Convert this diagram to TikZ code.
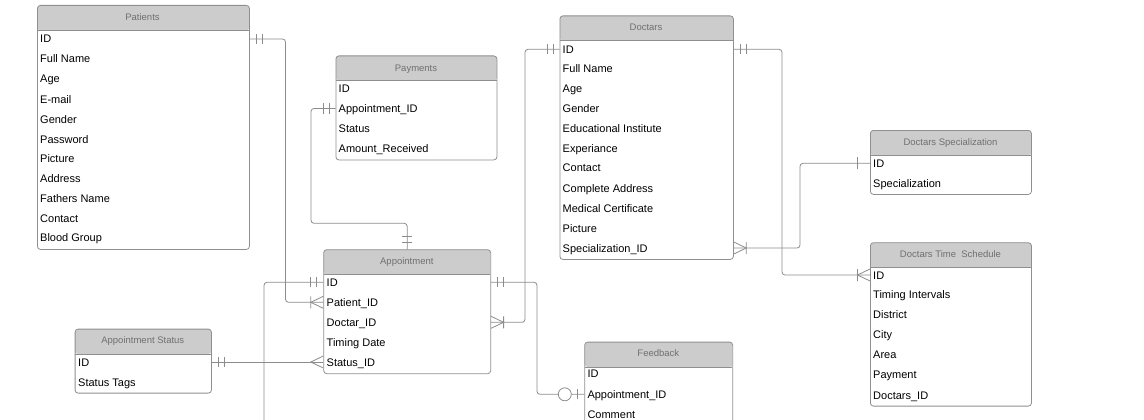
\documentclass[tikz,border=0pt]{standalone}
\usepackage{fontspec}
\setmainfont{Liberation Sans}
\usepackage{tikz}
\usetikzlibrary{calc}

\definecolor{HeadGray}{HTML}{CCCCCC}
\definecolor{EdgeGray}{HTML}{8F8F8F}
\definecolor{TitleGray}{HTML}{707070}
\definecolor{LinkGray}{HTML}{8C8C8C}

\begin{document}
\begin{tikzpicture}[x=1pt,y=-1pt]
			\tikzstyle{Table}	= [draw=EdgeGray, line width=0.8pt, rounded corners=3pt, anchor=north west, inner sep=0pt,
								   path picture={\fill[HeadGray] (path picture bounding box.north west) rectangle ([yshift=-25pt]path picture bounding box.north east);
								                 \draw[EdgeGray, line width=0.8pt] ([yshift=-25pt]path picture bounding box.north west) -- ([yshift=-25pt]path picture bounding box.north east);}]
			\tikzstyle{Title}	= [inner sep=0pt, text=TitleGray, font=\fontsize{9.5}{11}\selectfont, text height=7pt, text depth=0pt]
			\tikzstyle{Row}		= [anchor=west, inner sep=0pt, font=\fontsize{11}{13}\selectfont, text height=8pt, text depth=0pt]
			\tikzstyle{Link}	= [draw=LinkGray, line width=0.8pt]
			\tikzstyle{Conn}	= [Link, rounded corners=3pt]
			\tikzset{
				Dbl/.pic	 = {\draw [Link] (6.5,-5) -- (6.5,5) (12.5,-5) -- (12.5,5);},
				One/.pic	 = {\draw [Link] (13,-6) -- (13,6);},
				Crow/.pic	 = {\draw [Link] (0,-6) -- (12.5,0) -- (0,6);},
				CrowBar/.pic = {\draw [Link] (0,-6) -- (12.5,0) -- (0,6) (12.5,-6) -- (12.5,6);},
				ZeroOne/.pic = {\draw [Link] (7,-5) -- (7,5); \draw [Link, fill=white] (19.5,0) circle (6.5);}
			}

			\useasboundingbox (0,0) rectangle (1144,420);
			\clip (0,0) rectangle (1144,420);

			% Patients
			\node (pat) at (37,5) [Table, minimum width=212, minimum height=244] {};
			\node (pat-t) at (142.5,17.5) [Title] {Patients};
			\node (pat-id) at (40,39) [Row] {ID};
			\node (pat-nm) at (40,59) [Row] {Full Name};
			\node (pat-ag) at (40,79) [Row] {Age};
			\node (pat-em) at (40,99) [Row] {E-mail};
			\node (pat-gn) at (40,119) [Row] {Gender};
			\node (pat-pw) at (40,139) [Row] {Password};
			\node (pat-pc) at (40,158.5) [Row] {Picture};
			\node (pat-ad) at (40,178.3) [Row] {Address};
			\node (pat-fn) at (40,198.2) [Row] {Fathers Name};
			\node (pat-ct) at (40,218) [Row] {Contact};
			\node (pat-bg) at (40,237.8) [Row] {Blood Group};

			% Payments
			\node (pay) at (335.5,55.5) [Table, minimum width=161, minimum height=104] {};
			\node (pay-t) at (416,67.5) [Title] {Payments};
			\node (pay-id) at (338.5,88.5) [Row] {ID};
			\node (pay-aid) at (338.5,108.5) [Row] {Appointment\_ID};
			\node (pay-st) at (338.5,128.3) [Row] {Status};
			\node (pay-am) at (338.5,148.3) [Row] {Amount\_Received};

			% Doctars
			\node (doc) at (559.5,15.5) [Table, minimum width=173.5, minimum height=243.5] {};
			\node (doc-t) at (646,27.5) [Title] {Doctars};
			\node (doc-id) at (562.5,49.3) [Row] {ID};
			\node (doc-nm) at (562.5,69) [Row] {Full Name};
			\node (doc-ag) at (562.5,88.8) [Row] {Age};
			\node (doc-gn) at (562.5,108.5) [Row] {Gender};
			\node (doc-ei) at (562.5,128.3) [Row] {Educational Institute};
			\node (doc-ex) at (562.5,148) [Row] {Experiance};
			\node (doc-ct) at (562.5,167.8) [Row] {Contact};
			\node (doc-ad) at (562.5,188) [Row] {Complete Address};
			\node (doc-mc) at (562.5,208) [Row] {Medical Certificate};
			\node (doc-pc) at (562.5,228) [Row] {Picture};
			\node (doc-sid) at (562.5,248) [Row] {Specialization\_ID};

			% Doctars Specialization
			\node (dsp) at (870,130) [Table, minimum width=161, minimum height=64] {};
			\node (dsp-t) at (950.5,141.5) [Title] {Doctars Specialization};
			\node (dsp-id) at (873,163.3) [Row] {ID};
			\node (dsp-sp) at (873,183.3) [Row] {Specialization};

			% Doctars Time Schedule
			\node (dts) at (870,242.3) [Table, minimum width=161, minimum height=163.4] {};
			\node (dts-t) at (950.5,253.5) [Title] {Doctars Time~ Schedule};
			\node (dts-id) at (873,275) [Row] {ID};
			\node (dts-ti) at (873,294.8) [Row] {Timing Intervals};
			\node (dts-ds) at (873,314.6) [Row] {District};
			\node (dts-cy) at (873,334.4) [Row] {City};
			\node (dts-ar) at (873,354.3) [Row] {Area};
			\node (dts-py) at (873,374.3) [Row] {Payment};
			\node (dts-did) at (873,395) [Row] {Doctars\_ID};

			% Appointment
			\node (app) at (323.3,249.3) [Table, minimum width=167, minimum height=124] {};
			\node (app-t) at (406.8,260.8) [Title] {Appointment};
			\node (app-id) at (326.5,282.3) [Row] {ID};
			\node (app-pid) at (326.5,302.3) [Row] {Patient\_ID};
			\node (app-did) at (326.5,322.3) [Row] {Doctar\_ID};
			\node (app-td) at (326.5,342) [Row] {Timing Date};
			\node (app-sid) at (326.5,362) [Row] {Status\_ID};

			% Appointment Status
			\node (ast) at (74.7,328.7) [Table, minimum width=136.3, minimum height=64] {};
			\node (ast-t) at (142.8,340) [Title] {Appointment Status};
			\node (ast-id) at (78,362) [Row] {ID};
			\node (ast-tg) at (78,382) [Row] {Status Tags};

			% Feedback
			\node (fbk) at (584.3,341.7) [Table, minimum width=148, minimum height=100] {};
			\node (fbk-t) at (658.3,352.5) [Title] {Feedback};
			\node (fbk-id) at (587.3,373.7) [Row] {ID};
			\node (fbk-aid) at (587.3,394.3) [Row] {Appointment\_ID};
			\node (fbk-cm) at (587.3,414) [Row] {Comment};

			% bends
			\coordinate (k1) at (285.5,0);
			\coordinate (k2) at (311,223.3);
			\coordinate (k4) at (525,0);
			\coordinate (k5) at (537,0);
			\coordinate (k6) at (264,440);
			\coordinate (k7) at (782,0);
			\coordinate (k8) at (800,0);

			\draw [Conn] (pat.east |- pat-id) -| (k1 |- app-pid) -- (app.west |- app-pid);
			\draw [Conn] (pay.west |- pay-aid) -| (k2) -| (app.north);
			\draw [Conn] (doc.west |- doc-id) -| (k4 |- app-did) -- (app.east |- app-did);
			\draw [Conn] (app.east |- app-id) -| (k5 |- fbk-aid) -- (fbk.west |- fbk-aid);
			\draw [Conn] (app.west |- app-id) -| (k6);
			\draw [Conn] (ast.east |- ast-id) -- (app.west |- app-sid);
			\draw [Conn] (doc.east |- doc-id) -| (k7 |- dts-id) -- (dts.west |- dts-id);
			\draw [Conn] (doc.east |- doc-sid) -| (k8 |- dsp-id) -- (dsp.west |- dsp-id);

			% ends
			\path (pat.east |- pat-id) pic {Dbl};
			\path (app.west |- app-pid) pic [rotate=180] {CrowBar};
			\path (pay.west |- pay-aid) pic [rotate=180] {Dbl};
			\path (app.north) pic [rotate=90] {Dbl};
			\path (doc.west |- doc-id) pic [rotate=180] {Dbl};
			\path (app.east |- app-did) pic {CrowBar};
			\path (app.east |- app-id) pic {Dbl};
			\path (fbk.west |- fbk-aid) pic [rotate=180] {ZeroOne};
			\path (app.west |- app-id) pic [rotate=180] {Dbl};
			\path (ast.east |- ast-id) pic {Dbl};
			\path (app.west |- app-sid) pic [rotate=180] {Crow};
			\path (doc.east |- doc-id) pic {Dbl};
			\path (dts.west |- dts-id) pic [rotate=180] {CrowBar};
			\path (doc.east |- doc-sid) pic {CrowBar};
			\path (dsp.west |- dsp-id) pic [rotate=180] {One};
\end{tikzpicture}
\end{document}
